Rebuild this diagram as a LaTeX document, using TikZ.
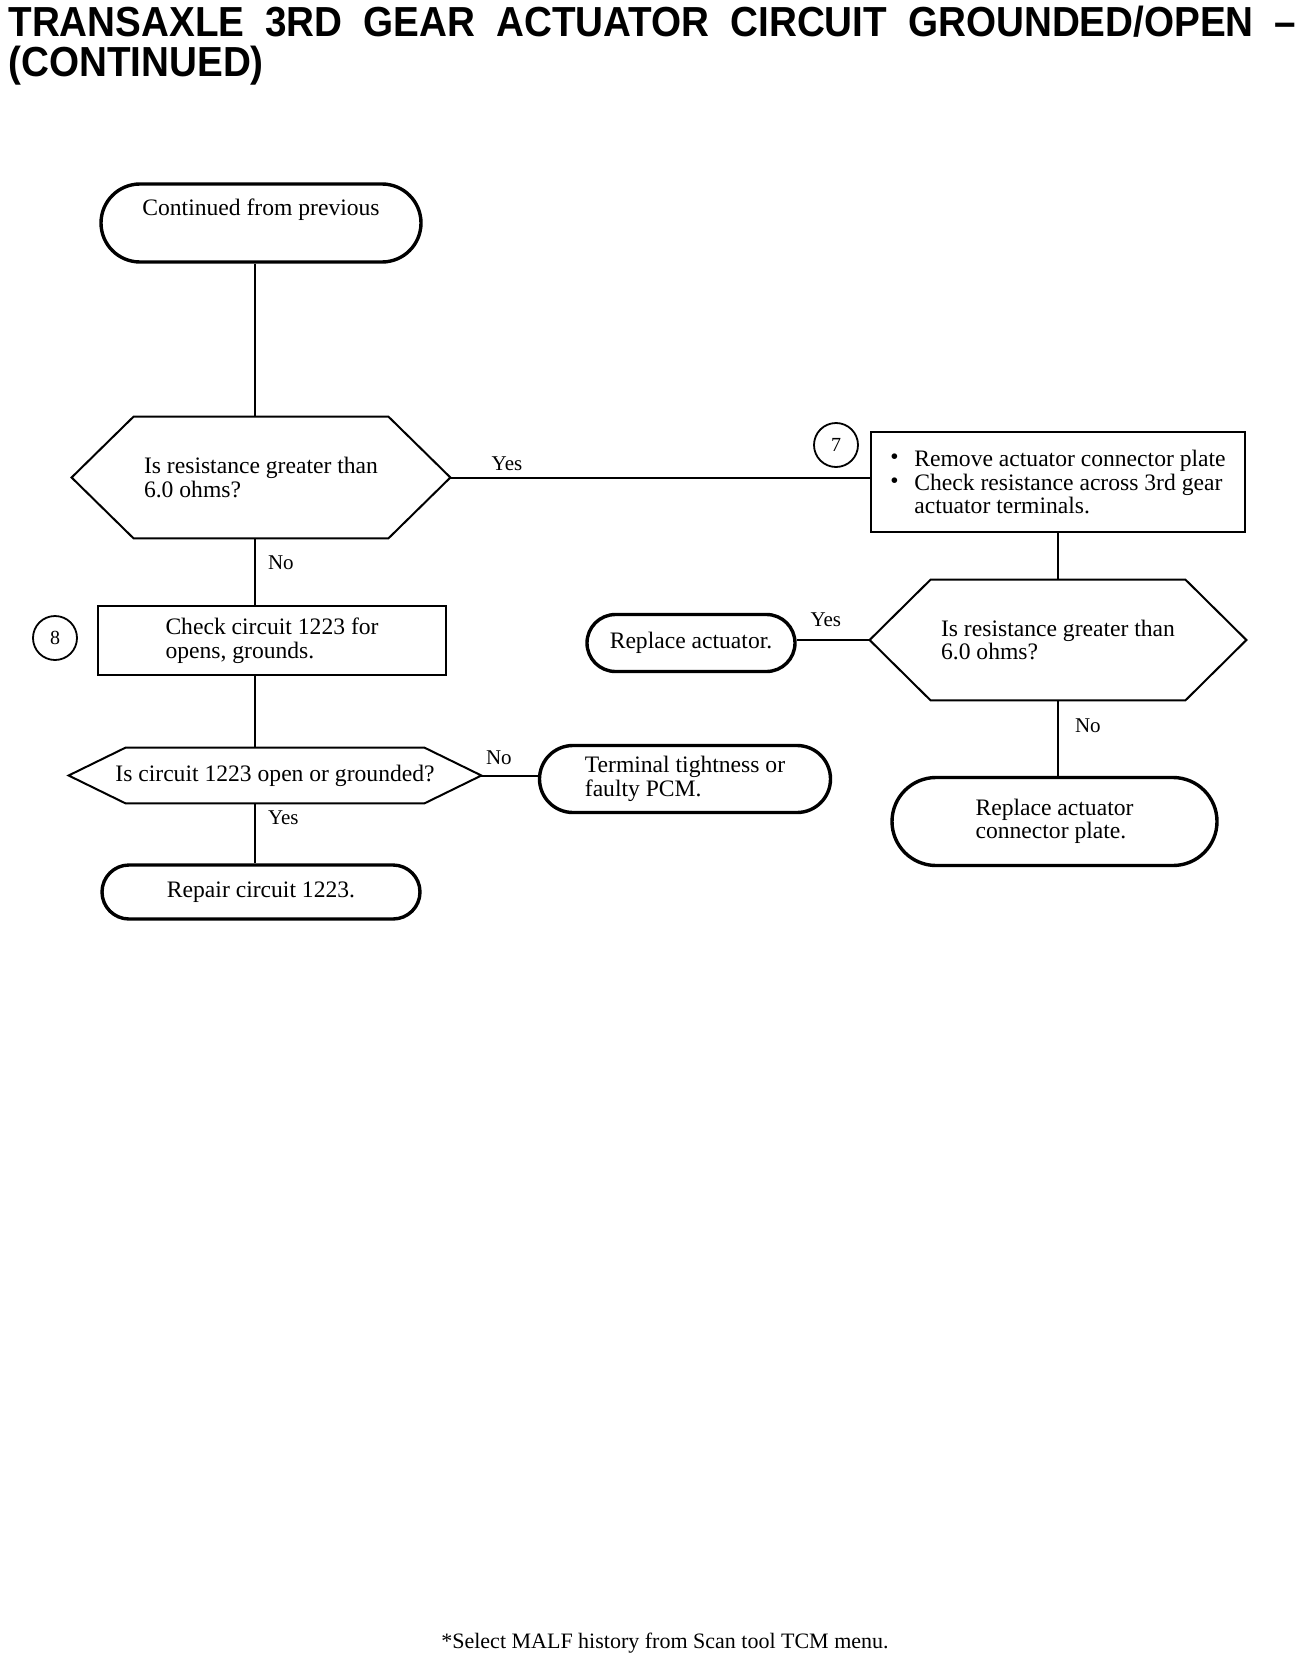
\documentclass[tikz,border=0pt]{standalone}
\usepackage{fontspec}
\setmainfont{Liberation Serif}
\newfontfamily\titlefont[FakeStretch=0.92]{Liberation Sans}
\usetikzlibrary{shapes.misc,positioning}

\newcommand{\bodysize}{\fontsize{11.8}{11.8}\selectfont}
\newcommand{\blt}{\makebox[12pt][l]{\raisebox{0.15ex}{\textbullet}}}
% six-sided frame round a query node, #2 = depth of the points
\newcommand{\hexframe}[2]{%
  \draw[hexline] (#1.west) -- ([xshift=#2]#1.north west) -- ([xshift=-#2]#1.north east)
    -- (#1.east) -- ([xshift=-#2]#1.south east) -- ([xshift=#2]#1.south west) -- cycle;}

\tikzset{
  every node/.style={font=\bodysize},
  headline/.style={anchor=base west, inner sep=0pt, font=\titlefont\bfseries\fontsize{21}{21}\selectfont},
  endcap/.style={draw, rounded rectangle, line width=1.7pt, align=left, inner sep=0pt},
  stepbox/.style={draw, rectangle, line width=1.2pt, align=left, inner sep=0pt},
  query/.style={rectangle, align=left, inner sep=0pt},
  hexline/.style={line width=1pt, line join=miter},
  stepnum/.style={draw, circle, line width=0.9pt, minimum size=22pt, inner sep=0pt, font=\fontsize{10}{10}\selectfont},
  link/.style={line width=1pt},
  answer/.style={font=\fontsize{10.5}{10.5}\selectfont, inner sep=1pt}
}

\begin{document}
\begin{tikzpicture}[x=0.5pt, y=-0.5pt]
\useasboundingbox (0,0) rectangle (1312,1664);

\node[headline] (titleA) at (8,37) {\makebox[644pt][s]{TRANSAXLE 3RD GEAR ACTUATOR CIRCUIT GROUNDED/OPEN –}};
\node[headline] (titleB) at ([yshift=-20pt]titleA.base west) {(CONTINUED)};

% left column
\node[endcap, align=center, minimum width=160pt, minimum height=39pt] (cont) at (261,223) {Continued from previous\\\strut};
\node[query, minimum width=189pt, minimum height=60.5pt] (hexA) at (261,477.5) {Is resistance greater than\\6.0 ohms?};
\hexframe{hexA}{31pt}
\node[stepbox, minimum width=174pt, minimum height=34.5pt] (chkB) at (272,640.5) {Check circuit 1223 for\\opens, grounds.};
\node[stepnum] (numB) at (55,638) {8};
\node[query, minimum width=206pt, minimum height=27.5pt] (hexC) at (275,775.5) {Is circuit 1223 open or grounded?};
\hexframe{hexC}{28.5pt}
\node[endcap, minimum width=145.5pt, minimum height=33.5pt] (faultPCM) at (685,779) {Terminal tightness or\\faulty PCM.};
\node[endcap, minimum width=159pt, minimum height=27pt] (fixCkt) at (261,892) {Repair circuit 1223.};

% right column
\node[stepbox, minimum width=187pt, minimum height=50pt] (chkA) at (1058,482) {\blt Remove actuator connector plate\\\blt Check resistance across 3rd gear\\\hspace{12pt}actuator terminals.};
\node[stepnum] (numA) at (836,445) {7};
\node[query, minimum width=188pt, minimum height=60pt] (hexB) at (1058,640) {Is resistance greater than\\6.0 ohms?};
\hexframe{hexB}{30.5pt}
\node[endcap, minimum width=104pt, minimum height=28.5pt] (swapAct) at (691,643) {Replace actuator.};
\node[endcap, minimum width=162.5pt, minimum height=44pt] (swapPlate) at (1054.5,821.5) {Replace actuator\\connector plate.};

\node[anchor=base, font=\fontsize{11}{11}\selectfont] (note) at (665,1648) {*Select MALF history from Scan tool TCM menu.};

\coordinate (spine) at (255,0);
\draw[link] (spine |- cont.south) -- (spine |- hexA.north);
\draw[link] (spine |- hexA.south) -- node[answer, pos=0.36, right=5pt] {No} (spine |- chkB.north);
\draw[link] (spine |- chkB.south) -- (spine |- hexC.north);
\draw[link] (spine |- hexC.south) -- node[answer, pos=0.24, right=5pt] {Yes} (spine |- fixCkt.north);
\draw[link] (hexA.east) -- node[answer, pos=0.135, above=2pt] {Yes} (hexA.east -| chkA.west);
\draw[link] (hexC.east) -- node[answer, pos=0.31, above=4pt] {No} (hexC.east -| faultPCM.west);
\draw[link] (chkA.south) -- (hexB.north);
\draw[link] (hexB.west) -- node[answer, pos=0.6, above=5pt] {Yes} (hexB.west -| swapAct.east);
\draw[link] (hexB.south) -- node[answer, pos=0.34, right=7pt] {No} (hexB.south |- swapPlate.north);
\end{tikzpicture}
\end{document}
